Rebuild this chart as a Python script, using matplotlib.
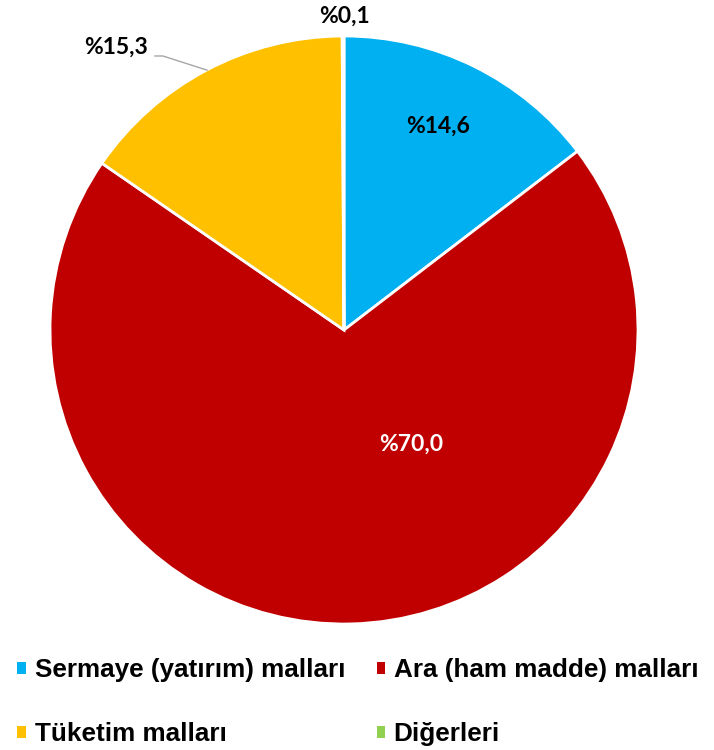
import matplotlib
matplotlib.use("Agg")
import matplotlib.pyplot as plt
from matplotlib.patches import Patch

# export shares by broad economic category (%)
categories = ["Sermaye (yatırım) malları", "Ara (ham madde) malları", "Tüketim malları", "Diğerleri"]
shares = [14.6, 70.0, 15.3, 0.1]
pct_labels = ["%14,6", "%70,0", "%15,3", "%0,1"]
colors = ["#00B0F0", "#C00000", "#FFC000", "#92D050"]

W, H = 714, 750
fig = plt.figure(figsize=(W / 100, H / 100), dpi=100)

# pie centre (344, 330) px from top-left, radius 294 px
cx, cy, r = 344, 330, 294
ax = fig.add_axes([(cx - r) / W, (H - cy - r) / H, 2 * r / W, 2 * r / H])

wedges, _ = ax.pie(shares, colors=colors, startangle=90, counterclock=False,
                   radius=1, wedgeprops=dict(edgecolor="white", linewidth=2))
ax.set_xlim(-1, 1)
ax.set_ylim(-1, 1)
ax.set_aspect("equal")
ax.axis("off")

label_font = dict(family=["Lato", "DejaVu Sans"], fontweight="bold", fontsize=16.5)
label_pos = [(0.32, 0.694), (0.23, -0.388), (-0.775, 0.963), (0.003, 1.068)]
label_col = ["black", "white", "black", "black"]
for txt, (x, y), c in zip(pct_labels, label_pos, label_col):
    ax.text(x, y, txt, ha="center", va="center", color=c, clip_on=False, **label_font)

# leader line for the consumer goods label
ax.plot([-0.643, -0.616, -0.466], [0.932, 0.932, 0.884], color="#A6A6A6",
        linewidth=1, clip_on=False)

# legend, filled column-wise
order = [0, 2, 1, 3]
handles = [Patch(facecolor=colors[i], edgecolor="none") for i in order]
labels = [categories[i] for i in order]
fig.legend(handles, labels, ncol=2, loc="upper left",
           bbox_to_anchor=(7 / W, 1 - 648 / H), frameon=False,
           prop=dict(family=["Liberation Sans", "DejaVu Sans"], weight="bold", size=18.8),
           handlelength=0.34, handleheight=0.34, handletextpad=0.32,
           columnspacing=1.2, labelspacing=1.52, borderaxespad=0)

fig.savefig("out.png", dpi=100)
